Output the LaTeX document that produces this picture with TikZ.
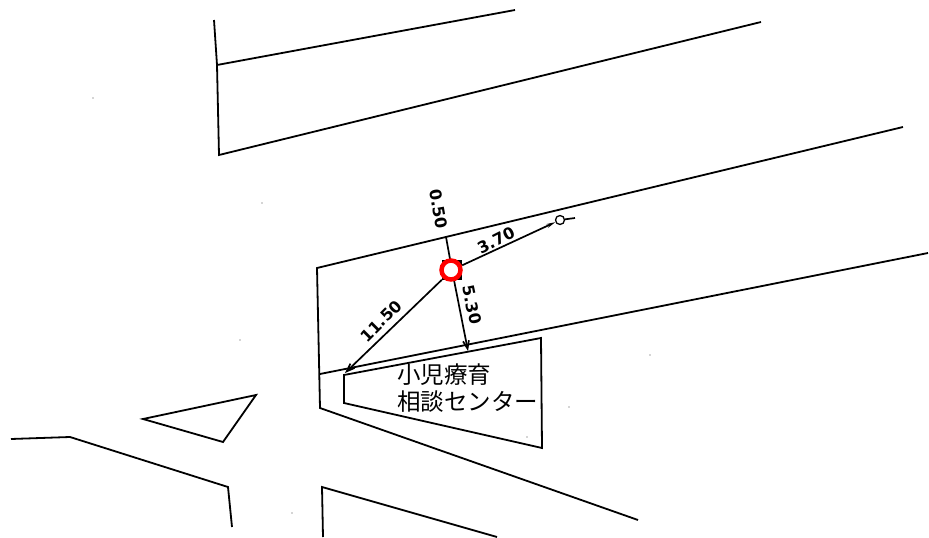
\documentclass[tikz,border=0pt]{standalone}
\usepackage{fontspec}
\usetikzlibrary{arrows.meta}
\setmainfont{DejaVu Sans}
\newfontfamily\cjk{Noto Sans CJK JP}
\begin{document}
\begin{tikzpicture}[x=1pt,y=-1pt,
  mapline/.style={draw=black,line width=1.8pt,line join=miter},
  dimline/.style={draw=black,line width=1.7pt},
  dimtip/.style={draw=black,line width=1.7pt,-{Straight Barb[length=8pt,width=6pt]}},
  smalltip/.style={draw=black,line width=1.7pt,-{Stealth[length=9pt,width=4pt]}},
  dimlabel/.style={font=\bfseries\fontsize{16}{17}\selectfont,inner sep=0pt},
  cjklabel/.style={font=\cjk\fontsize{23.5}{26}\selectfont,inner sep=0pt,anchor=west},
  speck/.style={fill=black!70,draw=none,circle,inner sep=0pt,minimum size=1.3pt}]
\useasboundingbox[fill=white] (0,0) rectangle (929,538);
% map lines
\draw[mapline] (214,20) -- (217,65) -- (515,10);
\draw[mapline] (217,65) -- (219,155) -- (761,22);
\draw[mapline] (903,127) -- (317,268) -- (320,408) -- (638,520);
\draw[mapline] (320,374) -- (928,253);
\draw[mapline] (541,338) -- (344,375) -- (344,403) -- (542,448) -- cycle;
\draw[mapline] (11,439) -- (70,437) -- (228,487) -- (232,527);
\draw[mapline] (143,419) -- (256,395) -- (223,442) -- cycle;
\draw[mapline] (323,537) -- (322,487) -- (497,537);
% points
\node[draw=none,fill=black,inner sep=0pt,minimum size=20pt] (b) at (452,270) {};
\node[draw=black,fill=white,line width=1.3pt,circle,inner sep=0pt,minimum size=9pt] (q) at (560,220) {};
\coordinate (top) at (446,237);
\coordinate (tail) at (575,218);
\coordinate (mid) at (468,351);
\coordinate (corner) at (345,373);
% connectors
\draw[dimline] (b) -- (top);
\draw[smalltip] (b) -- (q);
\draw[dimline] (q) -- (tail);
\draw[dimtip] (b) -- (mid);
\draw[dimtip] (b) -- (corner);
\node[draw=red,fill=white,line width=4.5pt,circle,inner sep=0pt,minimum size=19pt] (p) at (451,270) {};
% labels
\node[dimlabel,rotate=-80] (l050) at (439,209) {0.50};
\node[dimlabel,rotate=27] (l370) at (496,240) {3.70};
\node[dimlabel,rotate=-78] (l530) at (472,305) {5.30};
\node[dimlabel,rotate=45] (l1150) at (381,321) {11.50};
\node[cjklabel] (t1) at (397,375) {小児療育};
\node[cjklabel] (t2) at (397,402) {相談センター};
% scan specks
\node[speck] (s1) at (93,98) {};
\node[speck] (s2) at (262,203) {};
\node[speck] (s3) at (569,407) {};
\node[speck] (s4) at (527,437) {};
\node[speck] (s5) at (292,513) {};
\node[speck] (s6) at (650,355) {};
\node[speck] (s7) at (240,340) {};
\end{tikzpicture}
\end{document}
